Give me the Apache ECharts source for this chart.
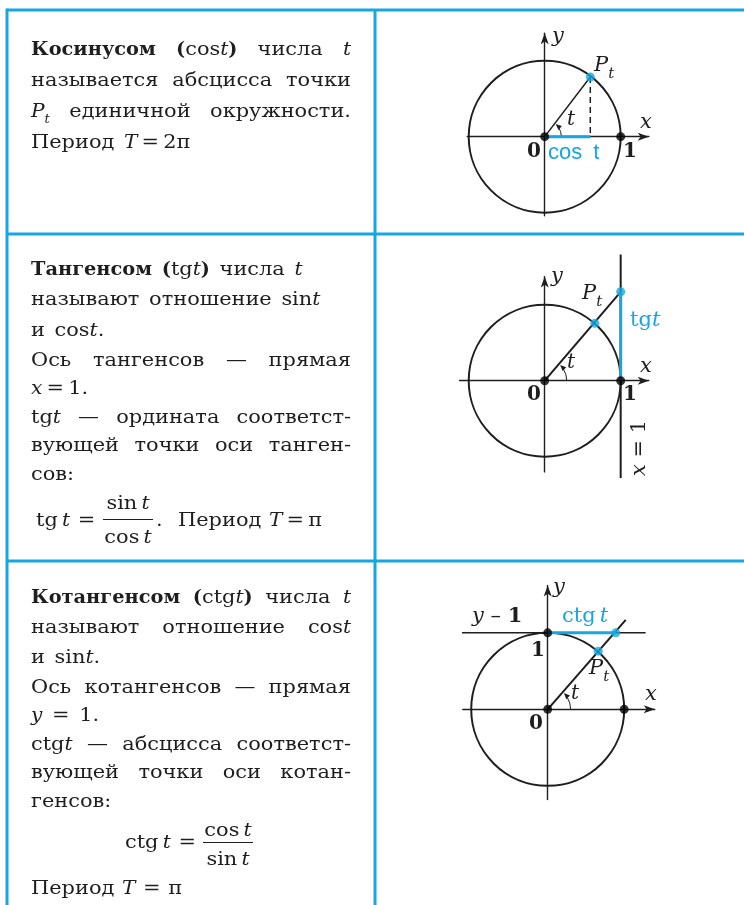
<!DOCTYPE html>
<html lang="ru">
<head>
<meta charset="utf-8">
<title>cos t, tg t, ctg t</title>
<script src="https://cdn.jsdelivr.net/npm/echarts@6/dist/echarts.min.js"></script>
<style>
html, body { margin: 0; padding: 0; background: #fff; }
#main { width: 744px; height: 905px; }
</style>
</head>
<body>
<div id="main"></div>
<script>
// points (unit circle coordinates)
var pointP1 = [0.60, 0.785];
var pointP2 = [0.66, 0.755];
var tgPoint = [1, 1.17];
var pointP3 = [0.66, 0.76];
var ctgPoint = [0.89, 1];
var rayEnd3 = [1.02, 1.17];
var tangentAxis = [[1, -1.28], [1, 1.66]];
var cotangentAxis = [[-1.14, 1], [1.28, 1]];
var angleT = [52.6, 49, 48.6];      // degrees
var arcRadius = [0.22, 0.29, 0.30];

// left column text
var row1Text = [
  '{b|Косинусом} {b|(}cos{i|t}{b|)} числа {i|t}',
  'называется абсцисса точки',
  '{i|P}{s|t} единичной окружности.',
  'Период {i|T}\u2009=\u20092π'
];
var row1Justify = [1, 1, 1, 0];
var row1Y = [50, 81, 112, 143];

var row2Text = [
  '{b|Тангенсом} {b|(}tg{i|t}{b|)} числа {i|t}',
  'называют отношение sin{i|t}',
  'и cos{i|t}.',
  'Ось тангенсов — прямая',
  '{i|x}\u2009=\u20091.',
  'tg{i|t} — ордината соответст-',
  'вующей точки оси танген-',
  'сов:'
];
var row2Justify = [0, 0, 0, 1, 0, 1, 1, 0];
var row2Y = [270, 300, 331, 361, 389, 418, 446, 475];

var row3Text = [
  '{b|Котангенсом} {b|(}ctg{i|t}{b|)} числа {i|t}',
  'называют отношение cos{i|t}',
  'и sin{i|t}.',
  'Ось котангенсов — прямая',
  '{i|y} = 1.',
  'ctg{i|t} — абсцисса соответст-',
  'вующей точки оси котан-',
  'генсов:'
];
var row3Justify = [1, 1, 0, 1, 0, 1, 1, 0];
var row3Y = [598, 628, 658, 688, 716, 745, 773, 802];

var BLUE = '#16a7e2', INK = '#1e1e1e';
var SERIF = '"DejaVu Serif", "Liberation Serif", serif';
var SANS = '"Liberation Sans", "DejaVu Sans", sans-serif';
var TEXT_SIZE = 19, COL_X = 31, COL_W = 320;
// horizontal stretch of the body text, so DejaVu gets the width of a school-book face
var STRETCH = { n: 1.10, i: 1.06, b: 1.02, s: 1.0, a: 1.0 };

var ctx = document.createElement('canvas').getContext('2d');
function fontOf(st, size) {
  if (st === 'b') return 'bold ' + size + 'px ' + SERIF;
  if (st === 'i') return 'italic ' + size + 'px ' + SERIF;
  if (st === 's') return 'italic ' + Math.round(size * 0.7) + 'px ' + SERIF;
  if (st === 'a') return size + 'px ' + SANS;
  return size + 'px ' + SERIF;
}
function parse(word, size, stretch) {
  var re = /\{(\w+)\|([^}]*)\}|([^{]+)/g, m, out = [];
  while ((m = re.exec(word))) {
    var st = m[1] || 'n', txt = m[1] ? m[2] : m[3];
    var f = fontOf(st, size);
    var sx = stretch ? STRETCH[st] : 1;
    ctx.font = f;
    out.push({ text: txt, font: f, sx: sx, w: ctx.measureText(txt).width * sx, dy: st === 's' ? size * 0.38 : 0 });
  }
  return out;
}
function textLine(markup, x, y, o) {
  o = o || {};
  var size = o.size || TEXT_SIZE, color = o.color || INK;
  var words = markup.split(' ').map(function (w) { return parse(w, size, o.stretch); });
  var widths = words.map(function (ws) {
    return ws.reduce(function (a, s) { return a + s.w; }, 0);
  });
  var sum = widths.reduce(function (a, b) { return a + b; }, 0);
  ctx.font = fontOf('n', size);
  var gap = ctx.measureText(' ').width * (o.stretch ? STRETCH.n : 1) + (o.extraGap || 0);
  if (o.justify && words.length > 1) gap = (o.width - sum) / (words.length - 1);
  var total = sum + gap * (words.length - 1);
  var cx = o.align === 'center' ? x - total / 2 : x;
  var out = [];
  words.forEach(function (ws) {
    ws.forEach(function (s) {
      out.push({
        type: 'text', x: cx, y: y + s.dy, scaleX: s.sx, silent: true,
        style: { text: s.text, font: s.font, fill: color, textVerticalAlign: 'middle' }
      });
      cx += s.w;
    });
    cx += gap;
  });
  return out;
}

var els = [];
function add(list) { els.push.apply(els, list); }
function rule(x1, y1, x2, y2, color, w) {
  els.push({ type: 'line', silent: true, shape: { x1: x1, y1: y1, x2: x2, y2: y2 }, style: { stroke: color, lineWidth: w } });
}

// table
rule(7, 10, 744, 10, BLUE, 3);
rule(7, 8.5, 7, 905, BLUE, 3);
rule(375, 10, 375, 905, BLUE, 3);
rule(7, 234, 744, 234, BLUE, 3);
rule(7, 561, 744, 561, BLUE, 3);

function paragraph(lines, just, ys) {
  lines.forEach(function (l, k) {
    add(textLine(l, COL_X, ys[k], { justify: just[k], width: COL_W, stretch: true, extraGap: 3 }));
  });
}
paragraph(row1Text, row1Justify, row1Y);
paragraph(row2Text, row2Justify, row2Y);
paragraph(row3Text, row3Justify, row3Y);

// formulas
var fs = { stretch: true, extraGap: 1 };
var fc = { stretch: true, align: 'center' };
add(textLine('tg\u2009{i|t} =', 36, 521.5, fs));
add(textLine('sin\u2009{i|t}', 128, 504, fc));
rule(103, 519.5, 153, 519.5, INK, 1.2);
add(textLine('cos\u2009{i|t}', 128, 538, fc));
add(textLine('.', 156, 521.5, fs));
add(textLine('Период {i|T}\u2009=\u2009π', 178, 521.5, fs));

add(textLine('ctg\u2009{i|t} =', 125, 843, fs));
add(textLine('cos\u2009{i|t}', 228, 831.5, fc));
rule(203, 842.5, 253, 842.5, INK, 1.2);
add(textLine('sin\u2009{i|t}', 228, 860, fc));
add(textLine('Период {i|T} = π', 31, 889, fs));

// drawing labels
function lab(markup, x, y, o) { add(textLine(markup, x, y, Object.assign({ size: 21 }, o || {}))); }
// cos
lab('{i|y}', 552, 37);
lab('{i|x}', 640, 123);
lab('{i|P}{s|t}', 594, 66);
lab('{i|t}', 567, 120, { size: 20 });
lab('{b|0}', 527, 152, { size: 20 });
lab('{b|1}', 623, 152, { size: 20 });
lab('{a|cos\u2002t}', 548, 152.5, { size: 22, color: BLUE });
// tg
lab('{i|y}', 551, 277);
lab('{i|x}', 640, 367);
lab('{i|P}{s|t}', 582, 294);
lab('tg{i|t}', 630, 321, { color: BLUE });
lab('{i|t}', 567, 363, { size: 20 });
lab('{b|0}', 527, 395, { size: 20 });
lab('{b|1}', 623, 395, { size: 20 });
els.push({ type: 'group', x: 640, y: 448, rotation: Math.PI / 2, children: textLine('{i|x} = 1', 0, 0, { size: 21, align: 'center' }) });
// ctg
lab('{i|y}', 553, 588);
lab('{i|y} – {b|1}', 472, 616.5);
lab('ctg\u2009{i|t}', 562, 616.5, { color: BLUE });
lab('{b|1}', 531, 651, { size: 20 });
lab('{i|P}{s|t}', 589, 669);
lab('{i|t}', 571, 694, { size: 20 });
lab('{i|x}', 645, 695);
lab('{b|0}', 529, 724, { size: 20 });

// grids: equal scale on both axes
var grids = [
  { left: 467.2, top: 33.3, width: 181.6, height: 182.4 },
  { left: 459.6, top: 276.6, width: 189.2, height: 195.3 },
  { left: 462.8, top: 585.4, width: 192.0, height: 214.2 }
];
var xRange = [[-1.02, 1.37], [-1.12, 1.37], [-1.11, 1.40]];
var yRange = [[-1.04, 1.36], [-1.2, 1.37], [-1.18, 1.62]];

function axis(g, r) {
  return {
    type: 'value', gridIndex: g, min: r[0], max: r[1],
    axisTick: { show: false }, axisLabel: { show: false }, splitLine: { show: false },
    axisLine: { show: true, onZero: true, symbol: ['none', 'arrow'], symbolSize: [6, 11],
      lineStyle: { color: INK, width: 1.4 } }
  };
}

function circle(g) {
  return {
    type: 'custom', xAxisIndex: g, yAxisIndex: g, silent: true, clip: false, z: 2,
    data: [[0, 0, 1]],
    renderItem: function (p, api) {
      var c = api.coord([api.value(0), api.value(1)]);
      var r = api.size([api.value(2), 0])[0];
      return { type: 'circle', shape: { cx: c[0], cy: c[1], r: r }, style: { fill: 'none', stroke: INK, lineWidth: 2 } };
    }
  };
}
function angleArc(g) {
  return {
    type: 'custom', xAxisIndex: g, yAxisIndex: g, silent: true, clip: false, z: 3,
    data: [[0, 0, arcRadius[g], angleT[g]]],
    renderItem: function (p, api) {
      var c = api.coord([api.value(0), api.value(1)]);
      var r = api.size([api.value(2), 0])[0];
      var a = api.value(3) * Math.PI / 180;
      var tip = a - 0.06;
      var tx = c[0] + r * Math.cos(tip), ty = c[1] - r * Math.sin(tip);
      var dx = -Math.sin(tip), dy = -Math.cos(tip);   // CCW direction on screen
      var nx = Math.cos(tip), ny = -Math.sin(tip);
      var bx = tx - dx * 6, by = ty - dy * 6;
      return {
        type: 'group', children: [
          { type: 'arc', shape: { cx: c[0], cy: c[1], r: r, startAngle: 0, endAngle: -(a - 0.3), clockwise: false },
            style: { fill: 'none', stroke: INK, lineWidth: 1 } },
          { type: 'polygon', shape: { points: [[tx, ty], [bx + nx * 2.6, by + ny * 2.6], [bx - nx * 2.6, by - ny * 2.6]] },
            style: { fill: INK } }
        ]
      };
    }
  };
}
function seg(g, pts, color, width, dashed) {
  return {
    type: 'line', xAxisIndex: g, yAxisIndex: g, data: pts, symbol: 'none', showSymbol: false,
    clip: false, silent: true, z: 3,
    lineStyle: { color: color, width: width, type: dashed ? [6, 4] : 'solid', cap: 'butt' }
  };
}
function dots(g, pts, color) {
  return {
    type: 'scatter', xAxisIndex: g, yAxisIndex: g, data: pts, symbolSize: 9,
    itemStyle: { color: color }, silent: true, clip: false, z: 5
  };
}

var series = [
  circle(0),
  seg(0, [[0, 0], pointP1], INK, 1.5),
  seg(0, [pointP1, [pointP1[0], 0]], INK, 1.5, true),
  seg(0, [[0, 0], [pointP1[0], 0]], BLUE, 3),
  angleArc(0),
  dots(0, [[0, 0], [1, 0]], '#000'),
  dots(0, [pointP1], BLUE),

  circle(1),
  seg(1, tangentAxis, INK, 2),
  seg(1, [[0, 0], tgPoint], INK, 2),
  seg(1, [[1, 0], tgPoint], BLUE, 3),
  angleArc(1),
  dots(1, [[0, 0], [1, 0]], '#000'),
  dots(1, [pointP2, tgPoint], BLUE),

  circle(2),
  seg(2, cotangentAxis, INK, 1.5),
  seg(2, [[0, 0], rayEnd3], INK, 2),
  seg(2, [[0, 1], ctgPoint], BLUE, 3),
  angleArc(2),
  dots(2, [[0, 0], [1, 0], [0, 1]], '#000'),
  dots(2, [pointP3, ctgPoint], BLUE)
];

var chart = echarts.init(document.getElementById('main'));
chart.setOption({
  animation: false,
  backgroundColor: '#fff',
  grid: grids,
  xAxis: xRange.map(function (r, g) { return axis(g, r); }),
  yAxis: yRange.map(function (r, g) { return axis(g, r); }),
  series: series,
  graphic: { elements: els }
});
</script>
</body>
</html>
